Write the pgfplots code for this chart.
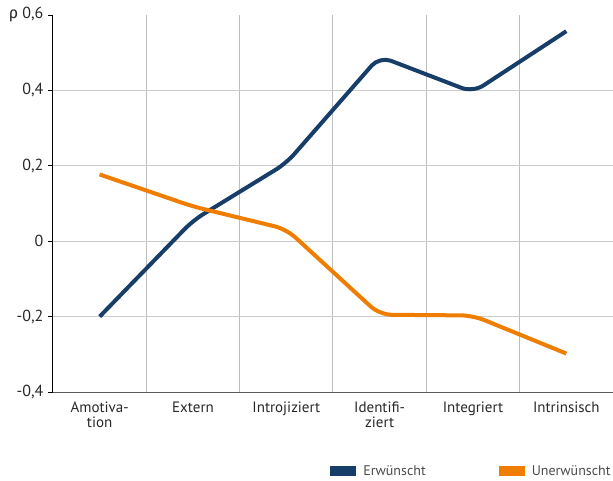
\documentclass[border=0pt]{standalone}
\usepackage{pgfplots}
\pgfplotsset{compat=1.18}
\usepackage{fontspec}
\setmainfont{PT Sans}
\newfontfamily\greekfont{Fira Sans}

\definecolor{erwblue}{RGB}{23,61,105}
\definecolor{unerworange}{RGB}{238,125,0}
\definecolor{gridgray}{RGB}{190,190,190}
\definecolor{txtgray}{RGB}{40,40,40}

\begin{document}
\begin{tikzpicture}
\useasboundingbox (-53pt,-88pt) rectangle (560pt,392pt);
\begin{axis}[
  scale only axis,
  width=560pt, height=377pt,
  at={(0,0)}, anchor=south west,
  xmin=-0.5, xmax=5.5,
  ymin=-0.4, ymax=0.6,
  axis x line=bottom, axis y line=left,
  axis line style={-},
  x axis line style={draw=black!65, line width=1pt},
  y axis line style={draw=black, line width=1pt},
  xtick={0,1,2,3,4,5},
  xticklabels={{Amotiva-\\tion},{Extern},{Introjiziert},{Identifi-\\ziert},{Integriert},{Intrinsisch}},
  xticklabel style={align=center, font=\fontsize{15}{15}\selectfont, text=txtgray, yshift=-1pt},
  major x tick style={draw=none},
  minor xtick={0.5,1.5,2.5,3.5,4.5},
  minor x tick style={draw=none},
  xminorgrids,
  minor x grid style={draw=gridgray, line width=1pt},
  ytick={-0.4,-0.2,0,0.2,0.4,0.6},
  yticklabels={{-0,4},{-0,2},{0},{0,2},{0,4},{{\greekfont ρ} 0,6}},
  yticklabel style={font=\fontsize{16}{16}\selectfont, text=txtgray, xshift=-1pt},
  y tick style={draw=black, line width=1pt},
  major tick length=5pt,
  tick align=outside,
  extra y ticks={-0.2,0,0.2,0.4},
  extra y tick labels={},
  extra y tick style={grid=major, major grid style={draw=gridgray!80, line width=1pt}, major tick length=0pt},
  legend columns=2,
  legend style={at={(axis description cs:0.495,-0.2095)}, anchor=west, draw=none, fill=none,
    inner sep=0pt, font=\fontsize{14}{14}\selectfont, text=black!70,
    /tikz/every odd column/.append style={column sep=5pt},
    /tikz/every even column/.append style={column sep=71pt}},
  legend image code/.code={\fill[#1, draw=none, sharp corners] (0pt,-5pt) rectangle (26pt,5pt);},
  clip=false,
]
% Erwünscht
\addplot[color=erwblue, line width=4pt, rounded corners=12pt, line cap=butt] coordinates {
  (0,-0.200) (1,0.055) (2,0.207) (3,0.490) (4,0.395) (5,0.557)
};
\addlegendentry{Erwünscht}
% Unerwünscht
\addplot[color=unerworange, line width=4pt, rounded corners=12pt, line cap=butt] coordinates {
  (0,0.177) (1,0.092) (2,0.032) (3,-0.195) (4,-0.197) (5,-0.298)
};
\addlegendentry{Unerwünscht}
\end{axis}
\end{tikzpicture}
\end{document}
